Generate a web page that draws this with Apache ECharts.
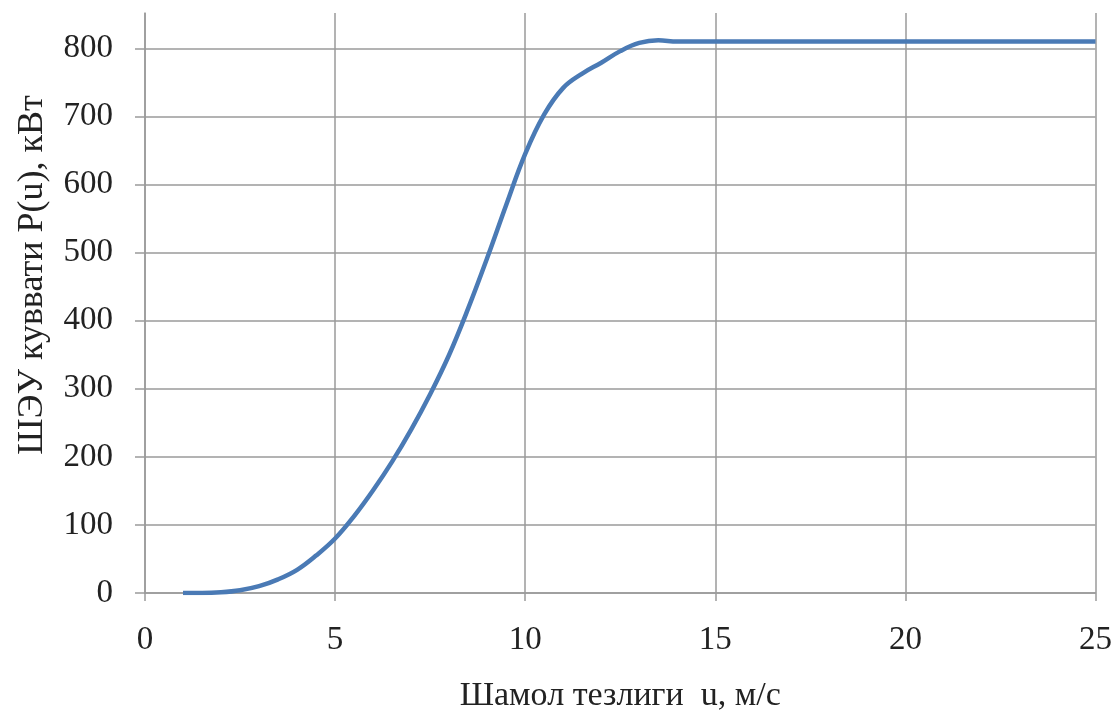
<!DOCTYPE html>
<html>
<head>
<meta charset="utf-8">
<script src="https://cdn.jsdelivr.net/npm/echarts@6/dist/echarts.min.js"></script>
<style>
  html, body { margin: 0; padding: 0; background: #fff; }
  #vis { width: 1115px; height: 718px; }
</style>
</head>
<body>
<div id="vis"></div>
<script>
// wind speed, m/s
const speeds = [1, 1.5, 2, 2.5, 3, 3.5, 4, 4.5, 5, 5.5, 6, 6.5, 7, 7.5, 8, 8.5, 9, 9.5, 10, 10.5, 11, 11.5, 12, 12.5, 13, 13.5, 14, 15, 16, 17, 18, 19, 20, 21, 22, 23, 24, 25];
// power, kW
const power = [0, 0, 1, 4, 10, 20, 34, 55, 80, 113, 151, 193, 240, 292, 350, 418, 492, 570, 645, 703, 742, 763, 779, 796, 808, 812, 810, 810, 810, 810, 810, 810, 810, 810, 810, 810, 810, 810];

const xTicks = [0, 5, 10, 15, 20, 25];
const yTicks = [0, 100, 200, 300, 400, 500, 600, 700, 800];

const font = '"Liberation Serif", "DejaVu Serif", serif';
const gridColor = '#9a9a9a';

const chart = echarts.init(document.getElementById('vis'), null, { renderer: 'canvas' });

const seriesData = speeds.map((u, i) => [u, power[i]]);

chart.setOption({
  animation: false,
  backgroundColor: '#fff',
  grid: { left: 145, right: 18, top: 13, bottom: 125 },
  xAxis: {
    type: 'value',
    min: xTicks[0],
    max: xTicks[xTicks.length - 1],
    interval: 5,
    name: 'Шамол тезлиги  u, м/с',
    nameLocation: 'middle',
    nameGap: 86,
    nameTextStyle: { fontFamily: font, fontSize: 34, color: '#222' },
    axisLine: { show: true, lineStyle: { color: gridColor, width: 1.5 } },
    axisTick: { show: true, length: 8, lineStyle: { color: gridColor, width: 1.5 } },
    axisLabel: { fontFamily: font, fontSize: 33, color: '#222', margin: 31 },
    splitLine: { show: true, lineStyle: { color: gridColor, width: 1.5 } }
  },
  yAxis: {
    type: 'value',
    min: yTicks[0],
    max: 852,
    interval: 100,
    name: 'ШЭУ куввати P(u), кВт',
    nameLocation: 'middle',
    nameGap: 94,
    nameTextStyle: { fontFamily: font, fontSize: 36, color: '#222', padding: [0, 0, 0, 56] },
    axisLine: { show: true, lineStyle: { color: gridColor, width: 1.5 } },
    axisTick: { show: true, length: 10, lineStyle: { color: gridColor, width: 1.5 } },
    axisLabel: {
      fontFamily: font, fontSize: 33, color: '#222', margin: 32,
      showMaxLabel: false,
      formatter: v => (yTicks.includes(v) ? String(v) : '')
    },
    splitLine: { show: true, showMaxLine: false, lineStyle: { color: gridColor, width: 1.5 } }
  },
  series: [{
    type: 'line',
    data: seriesData,
    smooth: 0.4,
    showSymbol: false,
    lineStyle: { color: '#4a7ab5', width: 4.5 }
  }]
});

window.addEventListener('resize', () => chart.resize());
</script>
</body>
</html>
